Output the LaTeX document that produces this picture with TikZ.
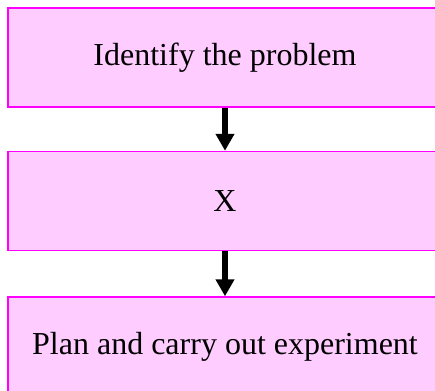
\documentclass[tikz,border=0pt]{standalone}
\usepackage{fontspec}
\setmainfont{Liberation Serif}
\usetikzlibrary{arrows.meta,positioning}
\definecolor{pink}{HTML}{FFCCFF}
\definecolor{mag}{HTML}{FF00FF}

\begin{document}
\begin{tikzpicture}[x=1pt,y=1pt,
    stagebox/.style={draw=mag, fill=pink, line width=1.5pt, minimum width=434pt,
                     minimum height=99pt, inner sep=0pt, font=\fontsize{32}{38}\selectfont},
    flow/.style={line width=6pt, -{Triangle[width=18pt,length=17pt]}}]
  \useasboundingbox (0,0) rectangle (435,-390);
  \node[stagebox] (prob) at (225,-57.5) {Identify the problem};
  \node[stagebox, below=43pt of prob] (x) {X};
  \node[stagebox, below=45pt of x] (plan) {Plan and carry out experiment};
  \draw[flow] (prob.south) -- (x.north);
  \draw[flow] (x.south) -- (plan.north);
\end{tikzpicture}
\end{document}
